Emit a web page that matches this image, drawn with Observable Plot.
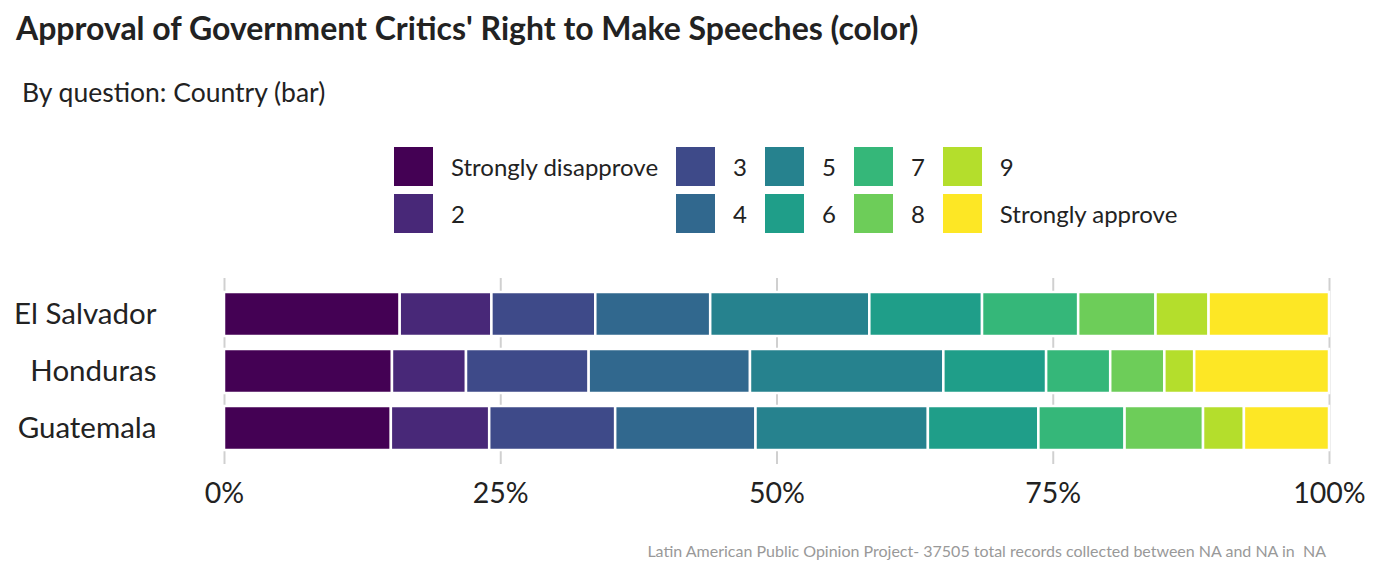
<!DOCTYPE html>
<html>
<head>
<meta charset="utf-8">
<script src="https://cdn.jsdelivr.net/npm/d3@7"></script>
<script src="https://cdn.jsdelivr.net/npm/@observablehq/plot@0.6"></script>
<style>
  body { margin: 0; background: #fff; font-family: Lato, "Noto Sans", sans-serif; color: #222; }
  #wrap { position: relative; width: 1400px; height: 576px; }
  #title { position: absolute; left: 16px; top: 8px; font-size: 32px; font-weight: bold; color: #222; }
  #subtitle { position: absolute; left: 22px; top: 76px; font-size: 26.5px; color: #222; }
  #legend { position: absolute; left: 394px; top: 147px; display: grid; grid-template-rows: 39px 39px; grid-auto-flow: column; row-gap: 8px; column-gap: 18px; }
  .key { display: flex; align-items: center; font-size: 24px; color: #222; }
  .sw { width: 39px; height: 39px; margin-right: 18px; }
  #chart { position: absolute; left: 0; top: 270px; }
  #caption { position: absolute; right: 74px; top: 541px; font-size: 16px; color: #999; }
</style>
</head>
<body>
<div id="wrap">
  <div id="title">Approval of Government Critics' Right to Make Speeches (color)</div>
  <div id="subtitle">By question: Country (bar)</div>
  <div id="legend"></div>
  <div id="chart"></div>
  <div id="caption">Latin American Public Opinion Project- 37505 total records collected between NA and NA in &nbsp;NA</div>
</div>
<script>
// response levels, in order
const levels = ["Strongly disapprove", "2", "3", "4", "5", "6", "7", "8", "9", "Strongly approve"];
const countries = ["El Salvador", "Honduras", "Guatemala"];

// percent of respondents per level
const elSalvador = [15.9, 8.3, 9.4, 10.4, 14.4, 10.2, 8.7, 7.0, 4.8, 10.9];
const honduras   = [15.2, 6.7, 11.1, 14.6, 17.5, 9.3, 5.8, 4.9, 2.7, 12.2];
const guatemala  = [15.1, 8.9, 11.4, 12.7, 15.6, 10.0, 7.8, 7.1, 3.7, 7.7];

const colors = ["#440154", "#482878", "#3E4A89", "#31688E", "#26828E", "#1F9E89", "#35B779", "#6DCD59", "#B4DE2C", "#FDE725"];

const series = [elSalvador, honduras, guatemala];
const rows = [];
countries.forEach((c, i) => {
  series[i].forEach((v, j) => rows.push({country: c, level: levels[j], value: v / 100}));
});

// legend: two rows, filled column by column
const legend = document.querySelector("#legend");
levels.forEach((l, j) => {
  const k = document.createElement("div");
  k.className = "key";
  k.innerHTML = `<div class="sw" style="background:${colors[j]}"></div><span>${l}</span>`;
  legend.append(k);
});

const plot = Plot.plot({
  width: 1400,
  height: 240,
  marginLeft: 224,
  marginRight: 71,
  marginTop: 8,
  marginBottom: 46,
  style: {fontFamily: "Lato, sans-serif", fontSize: "26px", color: "#222"},
  x: {domain: [0, 1]},
  y: {domain: countries, padding: 0.22},
  color: {domain: levels, range: colors},
  marks: [
    Plot.gridX([0, 0.25, 0.5, 0.75, 1], {stroke: "#d0d0d0", strokeOpacity: 1, strokeWidth: 2}),
    Plot.barX(rows, Plot.stackX({x: "value", y: "country", fill: "level", order: levels, stroke: "white", strokeWidth: 2.5})),
    Plot.axisX({ticks: [0, 0.25, 0.5, 0.75, 1], tickFormat: d3.format(".0%"), tickSize: 0, tickPadding: 18, label: null, fontSize: 28.5}),
    Plot.axisY({tickSize: 0, tickPadding: 68, label: null, fontSize: 29.5})
  ]
});
document.querySelector("#chart").append(plot);
</script>
</body>
</html>
